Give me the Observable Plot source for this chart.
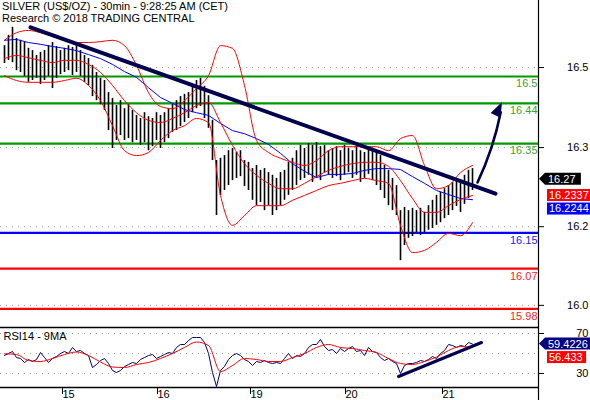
<!DOCTYPE html>
<html><head><meta charset="utf-8">
<script src="https://cdn.jsdelivr.net/npm/d3@7"></script>
<script src="https://cdn.jsdelivr.net/npm/@observablehq/plot@0.6"></script>
<style>
body{margin:0;background:#fff;font-family:"Liberation Sans",Arial,sans-serif;}
#wrap{position:relative;width:590px;height:400px;overflow:hidden;background:#fff;}
#main{position:absolute;left:0;top:0;}
#rsi{position:absolute;left:0;top:326px;}
.title{position:absolute;left:2px;font-size:11px;line-height:13px;color:#000;white-space:nowrap;}
</style></head><body>
<div id="wrap"><div id="main"></div><div id="rsi"></div>
<div class="title" style="top:0px">SILVER (US$/OZ) - 30min - 9:28:25 AM (CET)</div>
<div class="title" style="top:12px">Research © 2018 TRADING CENTRAL</div>
</div>
<script>
// ---- data (one entry per bar, ~1 hour each) ----
const highs = [16.569,16.592,16.610,16.585,16.581,16.576,16.563,16.558,16.547,16.554,
16.558,16.569,16.576,16.567,16.558,16.563,16.569,16.565,16.572,16.558,
16.547,16.540,16.525,16.509,16.496,16.491,16.464,16.451,16.435,16.446,
16.428,16.437,16.424,16.413,16.406,16.419,16.410,16.406,16.419,16.413,
16.419,16.428,16.437,16.446,16.455,16.460,16.464,16.482,16.491,16.496,
16.478,16.457,16.402,16.312,16.317,16.323,16.334,16.339,16.330,16.334,
16.312,16.308,16.294,16.301,16.290,16.294,16.285,16.279,16.272,16.285,
16.290,16.308,16.317,16.334,16.346,16.339,16.350,16.346,16.352,16.343,
16.346,16.334,16.339,16.343,16.334,16.346,16.339,16.334,16.343,16.334,
16.330,16.339,16.334,16.330,16.323,16.301,16.290,16.272,16.256,16.200,
16.207,16.200,16.205,16.200,16.205,16.196,16.211,16.223,16.234,16.241,
16.249,16.256,16.263,16.272,16.267,16.279,16.290,16.294];
const lows = [16.529,16.536,16.531,16.513,16.509,16.500,16.487,16.491,16.496,16.482,
16.491,16.500,16.473,16.496,16.504,16.509,16.513,16.502,16.509,16.500,
16.487,16.480,16.455,16.446,16.437,16.424,16.379,16.339,16.357,16.368,
16.357,16.361,16.352,16.357,16.346,16.352,16.334,16.343,16.357,16.339,
16.352,16.361,16.375,16.379,16.388,16.397,16.406,16.419,16.428,16.433,
16.406,16.384,16.312,16.189,16.234,16.245,16.256,16.267,16.272,16.276,
16.254,16.245,16.223,16.211,16.218,16.200,16.211,16.189,16.200,16.211,
16.223,16.234,16.245,16.256,16.267,16.272,16.279,16.263,16.272,16.267,
16.285,16.279,16.272,16.276,16.267,16.279,16.285,16.272,16.279,16.263,
16.272,16.281,16.267,16.256,16.245,16.227,16.211,16.200,16.189,16.088,
16.122,16.138,16.142,16.151,16.144,16.151,16.156,16.160,16.167,16.173,
16.182,16.189,16.200,16.209,16.196,16.214,16.227,16.245];

// overlays, one value every 3 bars
const bbUpper = [16.581,16.598,16.603,16.598,16.590,16.581,16.576,16.576,16.578,16.581,
16.569,16.525,16.464,16.433,16.428,16.446,16.473,16.502,16.569,16.563,
16.480,16.357,16.330,16.317,16.308,16.301,16.312,16.334,16.343,16.343,
16.343,16.343,16.334,16.361,16.368,16.301,16.249,16.256,16.285,16.301];
const bbMiddle = [16.540,16.547,16.542,16.536,16.531,16.536,16.536,16.527,16.509,16.480,
16.446,16.419,16.402,16.397,16.406,16.419,16.435,16.442,16.397,16.346,
16.305,16.279,16.261,16.249,16.249,16.261,16.276,16.290,16.299,16.305,
16.308,16.308,16.299,16.267,16.227,16.196,16.196,16.211,16.225,16.2337];
const bbLower = [16.502,16.491,16.487,16.487,16.487,16.491,16.496,16.480,16.446,16.390,
16.334,16.323,16.330,16.357,16.379,16.390,16.406,16.397,16.234,16.167,
16.189,16.211,16.211,16.211,16.223,16.234,16.245,16.256,16.261,16.267,
16.272,16.267,16.261,16.167,16.106,16.111,16.129,16.149,16.144,16.173];
const maBlue = [16.581,16.583,16.576,16.572,16.567,16.563,16.558,16.549,16.540,16.527,
16.511,16.498,16.475,16.453,16.440,16.426,16.419,16.413,16.395,16.379,
16.372,16.361,16.348,16.328,16.305,16.288,16.274,16.281,16.281,16.283,
16.290,16.294,16.294,16.292,16.276,16.261,16.245,16.236,16.227,16.2244];

const rsi = [48,50,52,46,45,41,44,42,44,51,
46,41,45,47,50,52,50,56,52,53,
50,48,36,39,43,45,40,33,31,33,
37,39,41,40,44,46,48,49,45,47,
49,51,50,56,59,59,63,66,66,66,
61,50,31,17,33,37,44,48,50,48,
44,42,38,42,41,43,41,40,41,40,
45,50,45,48,47,50,56,59,59,64,
57,53,54,50,55,52,55,57,52,53,
48,56,52,51,46,43,45,42,40,30,
38,40,40,41,43,42,44,47,45,50,
53,59,58,56,58,57,61,59.4];
const rsiMA = [49.7,49,43,42,45,49,51.5,48,41.5,36.5,
36,39,41,45,50,56,61.5,58,32,38,
45,44,42,42,46,50,56,59,56,55,
53,51,45,40,39,42,46.5,53,57,56.4];

const levelValues = [16.5, 16.44, 16.35, 16.15, 16.07, 15.98];
const levelLabels = ["16.5", "16.44", "16.35", "16.15", "16.07", "15.98"];
const levelKinds = ["res", "res", "res", "pivot", "sup", "sup"];

const priceTicks = [16.520, 16.341, 16.164, 15.988];
const priceTickLabels = ["16.5", "16.3", "16.2", "16.0"];
const rsiTicks = [70, 30];
const rsiGrid = [70, 50, 30];
const dayTicks = [13.25, 37, 60.25, 84, 108.25];
const dayLabels = ["15", "16", "19", "20", "21"];

const trendBar = [6.5, 122.75];
const trendPrice = [16.610, 16.238];
const arrowBar = [118.25, 124.5];
const arrowPrice = [16.263, 16.442];
const rsiTrendBar = [98.5, 119.25];
const rsiTrendValue = [27, 61];

const lastQuotes = [16.27, 16.2337, 16.2244];
const lastQuoteLabels = ["16.27", "16.2337", "16.2244"];
const lastRsi = [59.4226, 56.433];
const lastRsiLabels = ["59.4226", "56.433"];

// ---- build ----
const STEP = 3;
const bars = highs.map((h, i) => ({k: i, high: h, low: lows[i]}));
const series = arr => arr.map((v, j) => ({k: j * STEP, v}));
const kindColor = {res: "#009900", pivot: "#0000ff", sup: "#ff0000"};
const kindText = {res: "#44a02c", pivot: "#2020ff", sup: "#ff2020"};
const levels = levelValues.map((v, i) => ({v, label: levelLabels[i], stroke: kindColor[levelKinds[i]], fill: kindText[levelKinds[i]]}));
const NAVY = "#00004e";
const X_DOMAIN = [-1, 133.5];
const FONT = "Liberation Sans, Arial, sans-serif";

function textWidth(s) { let w = 0; for (const c of s) w += (c === ".") ? 3.1 : 6.2; return w; }

function valueBoxes(items) {
  return (index, scales, values, dims) => {
    const sy = scales.y;
    const g = d3.create("svg:g").attr("font-family", FONT).attr("font-size", 11).attr("text-anchor", "start");
    const x0 = dims.width - dims.marginRight;
    let prev = -Infinity;
    for (const it of items) {
      let cy = sy(it.value);
      if (cy < prev + 13.5) cy = prev + 13.5;
      prev = cy;
      const h = 12;
      const w = textWidth(it.label);
      if (it.arrow) {
        const bl = x0 + 7;
        const br = Math.min(dims.width, bl + w + 8);
        g.append("path").attr("d", `M${x0 + 1},${cy} L${bl},${cy - h / 2} H${br} V${cy + h / 2} H${bl} Z`).attr("fill", it.bg);
        g.append("text").attr("x", bl + 3).attr("y", cy).attr("dy", "0.36em").attr("fill", "#fff").attr("text-anchor", "start").text(it.label);
      } else {
        const bl = x0 + 9;
        const br = Math.min(dims.width, bl + w + 5);
        g.append("rect").attr("x", bl).attr("y", cy - h / 2).attr("width", br - bl).attr("height", h).attr("fill", it.bg);
        g.append("text").attr("x", bl + 2).attr("y", cy).attr("dy", "0.36em").attr("fill", "#fff").attr("text-anchor", "start").text(it.label);
      }
    }
    return g.node();
  };
}
function rightLine() {
  return (index, scales, values, dims) => {
    const x0 = dims.width - dims.marginRight + 0.5;
    return d3.create("svg:line").attr("x1", x0).attr("x2", x0).attr("y1", 0).attr("y2", dims.height)
      .attr("stroke", "#000").attr("stroke-width", 1.2).node();
  };
}
function arrowHead(xs, ys) {
  return (index, scales) => {
    const x1 = scales.x(xs[0]), y1 = scales.y(ys[0]);
    const x2 = scales.x(xs[1]), y2 = scales.y(ys[1]);
    let dx = x2 - x1, dy = y2 - y1;
    const a = Math.atan2(dy, dx) + 8 * Math.PI / 180;
    dx = Math.cos(a); dy = Math.sin(a);
    const L = 15, W = 5.5;
    const bx = x2 - dx * L, by = y2 - dy * L;
    const px = -dy, py = dx;
    return d3.create("svg:path")
      .attr("d", `M${x2},${y2} L${bx + px * W},${by + py * W} L${bx - px * W},${by - py * W} Z`)
      .attr("fill", NAVY).node();
  };
}

const tickLabelMap = new Map(priceTicks.map((t, i) => [t, priceTickLabels[i]]));
const dayLabelMap = new Map(dayTicks.map((t, i) => [t, dayLabels[i]]));

const main = Plot.plot({
  width: 590, height: 327,
  marginLeft: 0, marginRight: 52, marginTop: 0, marginBottom: 0,
  style: {fontFamily: FONT, fontSize: "11px", background: "transparent", overflow: "visible", color: "#000"},
  x: {domain: X_DOMAIN, axis: null},
  y: {domain: [15.9385, 16.670], axis: null},
  color: {type: "identity"},
  marks: [
    Plot.ruleY(priceTicks, {stroke: "#9a9a9a", strokeDasharray: "1,5"}),
    Plot.ruleY(levels, {y: "v", stroke: "stroke", strokeWidth: 2.2}),
    Plot.text(levels, {y: "v", text: "label", fill: "fill", frameAnchor: "right", textAnchor: "end", lineAnchor: "top", dx: -1, dy: 3, fontSize: 11}),
    Plot.ruleX(bars, {x: "k", y1: "low", y2: "high", stroke: "#000", strokeWidth: 1.6}),
    Plot.line(series(maBlue), {x: "k", y: "v", stroke: "#0000ff", strokeWidth: 1}),
    Plot.line(series(bbUpper), {x: "k", y: "v", stroke: "#ff0000", strokeWidth: 1, curve: "monotone-x"}),
    Plot.line(series(bbMiddle), {x: "k", y: "v", stroke: "#ff0000", strokeWidth: 1, curve: "monotone-x"}),
    Plot.line(series(bbLower), {x: "k", y: "v", stroke: "#ff0000", strokeWidth: 1, curve: "monotone-x"}),
    Plot.line(trendBar.map((k, i) => ({k, p: trendPrice[i]})), {x: "k", y: "p", stroke: NAVY, strokeWidth: 4}),
    Plot.arrow([{x1: arrowBar[0], y1: arrowPrice[0], x2: arrowBar[1], y2: arrowPrice[1]}],
      {x1: "x1", y1: "y1", x2: "x2", y2: "y2", stroke: NAVY, strokeWidth: 2.6, bend: -8, headLength: 0, insetEnd: 10}),
    arrowHead(arrowBar, arrowPrice),
    Plot.axisY({anchor: "right", label: null, ticks: priceTicks, tickFormat: d => tickLabelMap.get(d), tickSize: 5, tickPadding: 45, textAnchor: "end", fontSize: 11}),
    rightLine(),
    valueBoxes(lastQuotes.map((v, i) => ({value: v, label: lastQuoteLabels[i], bg: ["#000", "#ff0000", "#0000ff"][i], arrow: i === 0})))
  ]
});
document.getElementById("main").appendChild(main);

const rsiPlot = Plot.plot({
  width: 590, height: 74,
  marginLeft: 0, marginRight: 52, marginTop: 1, marginBottom: 13,
  style: {fontFamily: FONT, fontSize: "11px", background: "transparent", overflow: "visible", color: "#000"},
  x: {domain: X_DOMAIN, axis: null},
  y: {domain: [16, 76], axis: null},
  marks: [
    Plot.ruleY(rsiGrid, {stroke: "#9a9a9a", strokeDasharray: "1,5"}),
    Plot.ruleY([76, 16], {stroke: "#000", strokeWidth: 1.6}),
    Plot.line(rsi.map((v, k) => ({k, v})), {x: "k", y: "v", stroke: "#000080", strokeWidth: 1}),
    Plot.line(series(rsiMA), {x: "k", y: "v", stroke: "#ff0000", strokeWidth: 1, curve: "monotone-x"}),
    Plot.line(rsiTrendBar.map((k, i) => ({k, v: rsiTrendValue[i]})), {x: "k", y: "v", stroke: NAVY, strokeWidth: 3}),
    Plot.text(["RSI14 - 9MA"], {frameAnchor: "top-left", textAnchor: "start", lineAnchor: "top", dx: 3, dy: 5, fontSize: 11, fill: "#000"}),
    Plot.axisY({anchor: "right", label: null, ticks: rsiTicks, tickSize: 5, tickPadding: 45, textAnchor: "end", fontSize: 11}),
    Plot.axisX({anchor: "bottom", label: null, ticks: dayTicks, tickFormat: d => dayLabelMap.get(d), tickSize: 7, tickPadding: -4, textAnchor: "start", dx: 5, fontSize: 11}),
    rightLine(),
    valueBoxes(lastRsi.map((v, i) => ({value: v, label: lastRsiLabels[i], bg: ["#000080", "#ff0000"][i], arrow: i === 0})))
  ]
});
document.getElementById("rsi").appendChild(rsiPlot);
</script>
</body></html>
